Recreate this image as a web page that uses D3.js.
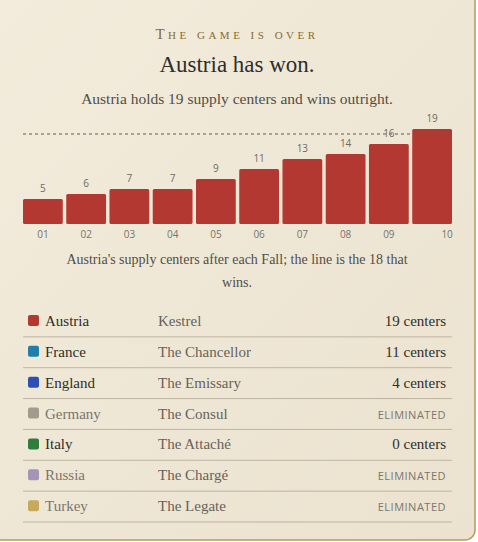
<!DOCTYPE html>
<html><head><meta charset="utf-8">
<script src="https://cdn.jsdelivr.net/npm/d3@7"></script>
<style>
body{margin:0;background:#fff;}
svg{display:block;}
</style></head><body>
<svg id="c" width="478" height="542"></svg>
<script>
const years = ["01","02","03","04","05","06","07","08","09","10"];
const centers = [5,6,7,7,9,11,13,14,16,19];
const winLine = 18;
const powers = ["Austria","France","England","Germany","Italy","Russia","Turkey"];
const players = ["Kestrel","The Chancellor","The Emissary","The Consul","The Attaché","The Chargé","The Legate"];
const results = ["19 centers","11 centers","4 centers","ELIMINATED","0 centers","ELIMINATED","ELIMINATED"];
const colors = ["#b33832","#1f7fa8","#2f4fb5","#a39a8e","#2f7d3a","#a395b5","#c7a85c"];

const svg = d3.select("#c");
const serif = "'Liberation Serif','DejaVu Serif',serif";
const defs = svg.append("defs");
const g = defs.append("linearGradient").attr("id","bg").attr("x1",0).attr("y1",0).attr("x2",1).attr("y2",1);
g.append("stop").attr("offset","0").attr("stop-color","#f3ecdc");
g.append("stop").attr("offset","1").attr("stop-color","#ebe2cf");
svg.append("rect").attr("x",-8).attr("y",-10).attr("width",483).attr("height",550).attr("rx",10)
  .attr("fill","url(#bg)").attr("stroke","#b39a68").attr("stroke-width",1.5);

svg.append("text").attr("x",237).attr("y",39).attr("text-anchor","middle")
  .style("font-family",serif).style("font-size","15px").style("letter-spacing","3.5px")
  .style("font-variant","small-caps").attr("fill","#8a6a30").text("The game is over");
svg.append("text").attr("x",237).attr("y",72).attr("text-anchor","middle")
  .style("font-family",serif).style("font-size","23px").attr("fill","#2e2e2a").text("Austria has won.");
svg.append("text").attr("x",237).attr("y",104).attr("text-anchor","middle")
  .style("font-family",serif).style("font-size","15.5px").attr("fill","#4e4e48")
  .text("Austria holds 19 supply centers and wins outright.");

const x = d3.scaleBand().domain(years).range([23,452]).paddingInner(0.08);
const y = d3.scaleLinear().domain([0,19]).range([224,129]);

svg.append("g").selectAll("rect").data(centers).join("rect")
  .attr("x",(d,i)=>x(years[i])).attr("y",d=>y(d))
  .attr("width",x.bandwidth()).attr("height",d=>y(0)-y(d)).attr("rx",1.5)
  .attr("fill","#b33832");
svg.append("line").attr("x1",23).attr("x2",452).attr("y1",y(winLine)).attr("y2",y(winLine))
  .attr("stroke","#6b5a3a").attr("stroke-dasharray","3,3").attr("stroke-width",1);
svg.append("g").selectAll("text").data(centers).join("text")
  .attr("x",(d,i)=>x(years[i])+x.bandwidth()/2).attr("y",d=>y(d)-7)
  .attr("text-anchor","middle").style("font-family","'Open Sans',sans-serif").style("font-size","10px")
  .attr("fill","#6e6a62").text(d=>d);
const ax = svg.append("g").attr("transform","translate(0,224)")
  .call(d3.axisBottom(x).tickSize(0).tickPadding(7));
ax.select(".domain").remove();
ax.selectAll("text").style("font-family","'Open Sans',sans-serif").style("font-size","10px").attr("fill","#77736a");
ax.selectAll(".tick").filter(d=>d==="10").select("text").attr("dx",15);

const cap = svg.append("text").attr("text-anchor","middle").style("font-family",serif)
  .style("font-size","14px").attr("fill","#4e4e48");
cap.append("tspan").attr("x",237).attr("y",264).text("Austria's supply centers after each Fall; the line is the 18 that");
cap.append("tspan").attr("x",237).attr("y",287).text("wins.");

const rowY = d3.scaleBand().domain(powers).range([306,522]);
const rows = svg.append("g").selectAll("g").data(powers).join("g")
  .attr("transform",d=>`translate(0,${rowY(d)})`);
const elim = i => results[i]==="ELIMINATED";
rows.append("rect").attr("x",28).attr("y",9).attr("width",11).attr("height",11).attr("rx",2)
  .attr("fill",(d,i)=>colors[i]);
rows.append("text").attr("x",45).attr("y",20).style("font-family",serif).style("font-size","15px")
  .attr("fill",(d,i)=>elim(i)?"#7a766e":"#2e2e2a").text(d=>d);
rows.append("text").attr("x",158).attr("y",20).style("font-family",serif).style("font-size","15px")
  .attr("fill","#66625a").text((d,i)=>players[i]);
rows.append("text").attr("x",446).attr("y",20).attr("text-anchor","end")
  .style("font-family",(d,i)=>elim(i)?"'Open Sans',sans-serif":serif)
  .style("font-size",(d,i)=>elim(i)?"11px":"15px")
  .style("letter-spacing",(d,i)=>elim(i)?"0.5px":"0")
  .attr("fill",(d,i)=>elim(i)?"#7a766e":"#2e2e2a").text((d,i)=>results[i]);
rows.append("line").attr("x1",23).attr("x2",452).attr("y1",rowY.bandwidth()).attr("y2",rowY.bandwidth())
  .attr("stroke","#bdb4a2").attr("stroke-width",1);
</script></body></html>
